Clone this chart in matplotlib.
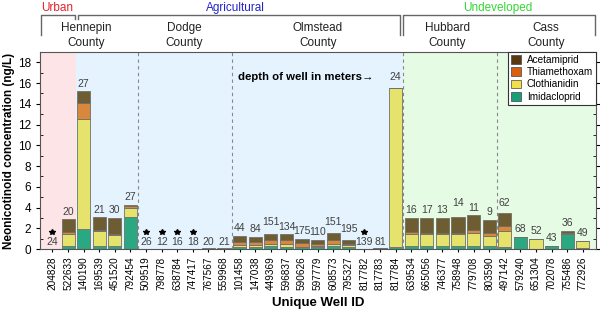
import numpy as np
import matplotlib
matplotlib.use("Agg")
import matplotlib.pyplot as plt
from matplotlib.patches import Patch
from matplotlib.lines import Line2D

plt.rcParams['font.family'] = ['Liberation Sans', 'DejaVu Sans']

# well ids, grouped by county
wells = ['204828', '522633', '140190', '169539', '451520', '792454',
         '509519', '798778', '638784', '747417', '767567', '559968',
         '101458', '147038', '449369', '596837', '590626', '597779',
         '608573', '795327', '817782', '817783', '817784',
         '639534', '665056', '746377', '758948', '779708', '803590',
         '497142', '579240', '651304', '702078', '755486', '772926']

# concentrations (ng/L)
imid = [0, 0.25, 1.95, 0.25, 0.25, 3.05,
        0, 0, 0, 0, 0, 0,
        0.2, 0.2, 0.25, 0.22, 0.15, 0.15, 0.25, 0.2, 0, 0, 0.2,
        0.25, 0.3, 0.25, 0.25, 0.25, 0.25,
        0.15, 1.2, 0.03, 0.3, 1.45, 0.1]
cloth = [0, 1.2, 10.55, 1.45, 1.1, 0.9,
         0, 0, 0, 0, 0, 0,
         0.22, 0.2, 0.25, 0.25, 0.05, 0.1, 0.25, 0.15, 0, 0.1, 15.3,
         1.2, 1.15, 1.2, 1.2, 1.3, 1.05,
         1.6, 0, 0.93, 0, 0, 0.7]
thiam = [0, 0.15, 1.6, 0.15, 0.1, 0.15,
         0, 0, 0, 0, 0, 0,
         0.28, 0.3, 0.35, 0.35, 0.35, 0.25, 0.4, 0.1, 0, 0, 0,
         0.15, 0.1, 0.12, 0.1, 0.25, 0.2,
         0.45, 0, 0, 0, 0.05, 0]
acet = [0, 1.25, 1.1, 1.2, 1.55, 0.15,
        0, 0, 0, 0, 0.08, 0.06,
        0.55, 0.5, 0.6, 0.58, 0.4, 0.37, 0.6, 0.42, 0, 0, 0,
        1.4, 1.45, 1.43, 1.5, 1.45, 1.3,
        1.3, 0, 0, 0, 0.23, 0]

# depth of well in meters
depth = [24, 20, 27, 21, 30, 27,
         26, 12, 16, 18, 20, 21,
         44, 84, 151, 134, 175, 110, 151, 195, 139, 81, 24,
         16, 17, 13, 14, 11, 9,
         62, 68, 52, 43, 36, 49]

compounds = ['Acetamiprid', 'Thiamethoxam', 'Clothianidin', 'Imidacloprid']
legend_cols = ['#5a3812', '#d9600e', '#f2e04a', '#1a9e78']
bar_cols = {'Imidacloprid': '#2aa882', 'Clothianidin': '#e6e36c',
            'Thiamethoxam': '#d8873c', 'Acetamiprid': '#6e5c32'}

x = np.arange(len(wells))
fig = plt.figure(figsize=(6, 3.12), dpi=100)
ax = fig.add_axes([40/600, 1-249/312, 556/600, 197/312])

ax.axvspan(-0.8, 1.5, color='#fde4e6', lw=0)
ax.axvspan(1.5, 22.5, color='#e4f3fd', lw=0)
ax.axvspan(22.5, 34.85, color='#e5fbe4', lw=0)
for b in [5.5, 11.5, 22.5, 28.5]:
    ax.axvline(b, color='#888888', ls=(0, (3, 3)), lw=0.8)

bottom = np.zeros(len(wells))
for name, vals in [('Imidacloprid', imid), ('Clothianidin', cloth),
                   ('Thiamethoxam', thiam), ('Acetamiprid', acet)]:
    vals = np.array(vals)
    ax.bar(x, vals, 0.84, bottom=bottom, color=bar_cols[name],
           edgecolor='#70706a', linewidth=0.6)
    bottom += vals

bump = {14: 0.4, 18: 0.4, 19: 0.35, 22: 0.35, 26: 0.6, 29: 0.15}
for i, tot in enumerate(bottom):
    if tot < 0.2:
        ax.text(i, 0.7, str(depth[i]), ha='center', va='center',
                fontsize=7.5, color='#404040')
        if tot == 0:
            ax.plot(i, 1.6, marker='*', color='black', ms=4)
    else:
        ax.text(i, tot + 0.75 + bump.get(i, 0), str(depth[i]),
                ha='center', va='center', fontsize=7.5, color='#404040')

ax.text(20.6, 16.6, 'depth of well in meters\u2192', ha='right', va='center',
        fontsize=8.2, fontweight='bold')

ax.set_xlim(-0.8, 34.85)
ax.set_ylim(0, 19)
ax.set_yticks(np.arange(0, 19, 2))
ax.set_xticks(x)
ax.set_xticklabels(wells, rotation=90, fontsize=7.2)
ax.tick_params(axis='y', labelsize=8.5, length=3, right=True)
ax.tick_params(axis='x', length=2)
ax.set_yticks(np.arange(1, 19, 2), minor=True)
ax.tick_params(axis='y', which='minor', length=2, right=True, direction='in')
ax.set_ylabel('Neonicotinoid concentration (ng/L)', fontsize=8.5,
              fontweight='bold', labelpad=2)
ax.set_xlabel('Unique Well ID', fontsize=9.5, fontweight='bold', labelpad=5)
for s in ax.spines.values():
    s.set_color('#555555')
    s.set_linewidth(0.8)

handles = [Patch(facecolor=c, edgecolor='#444444', lw=0.5) for c in legend_cols]
leg = ax.legend(handles, compounds, loc='upper right', bbox_to_anchor=(1, 1),
                borderaxespad=0, fontsize=7.2, fancybox=False, handlelength=1,
                handleheight=1, handletextpad=0.6, labelspacing=0.22,
                borderpad=0.3, framealpha=1)
leg.get_frame().set_edgecolor('#333333')
leg.get_frame().set_linewidth(0.8)

# header brackets and labels (pixel positions)
def fx(px):
    return px / 600

def fy(py):
    return 1 - py / 312

for pts in [[(40.7, 35), (40.7, 15), (75, 15), (75, 19)],
            [(78, 19), (78, 15), (400, 15), (400, 35)],
            [(403, 35), (403, 15), (595, 15), (595, 35)]]:
    xs = [fx(p[0]) for p in pts]
    ys = [fy(p[1]) for p in pts]
    fig.add_artist(Line2D(xs, ys, color='#666666', lw=1))

fig.text(fx(57), fy(8), 'Urban', color='#e8202a', ha='center', va='center', fontsize=8.5)
fig.text(fx(235), fy(8), 'Agricultural', color='#2424c8', ha='center', va='center', fontsize=8.5)
fig.text(fx(498), fy(8), 'Undeveloped', color='#33d633', ha='center', va='center', fontsize=8.5)
for cx, name in [(86, 'Hennepin'), (184, 'Dodge'), (318, 'Olmstead'),
                 (447, 'Hubbard'), (546, 'Cass')]:
    fig.text(fx(cx), fy(28), name, ha='center', va='center', fontsize=8.5, color='#222222')
    fig.text(fx(cx), fy(43), 'County', ha='center', va='center', fontsize=8.5, color='#222222')

fig.savefig('out.png', dpi=100)
